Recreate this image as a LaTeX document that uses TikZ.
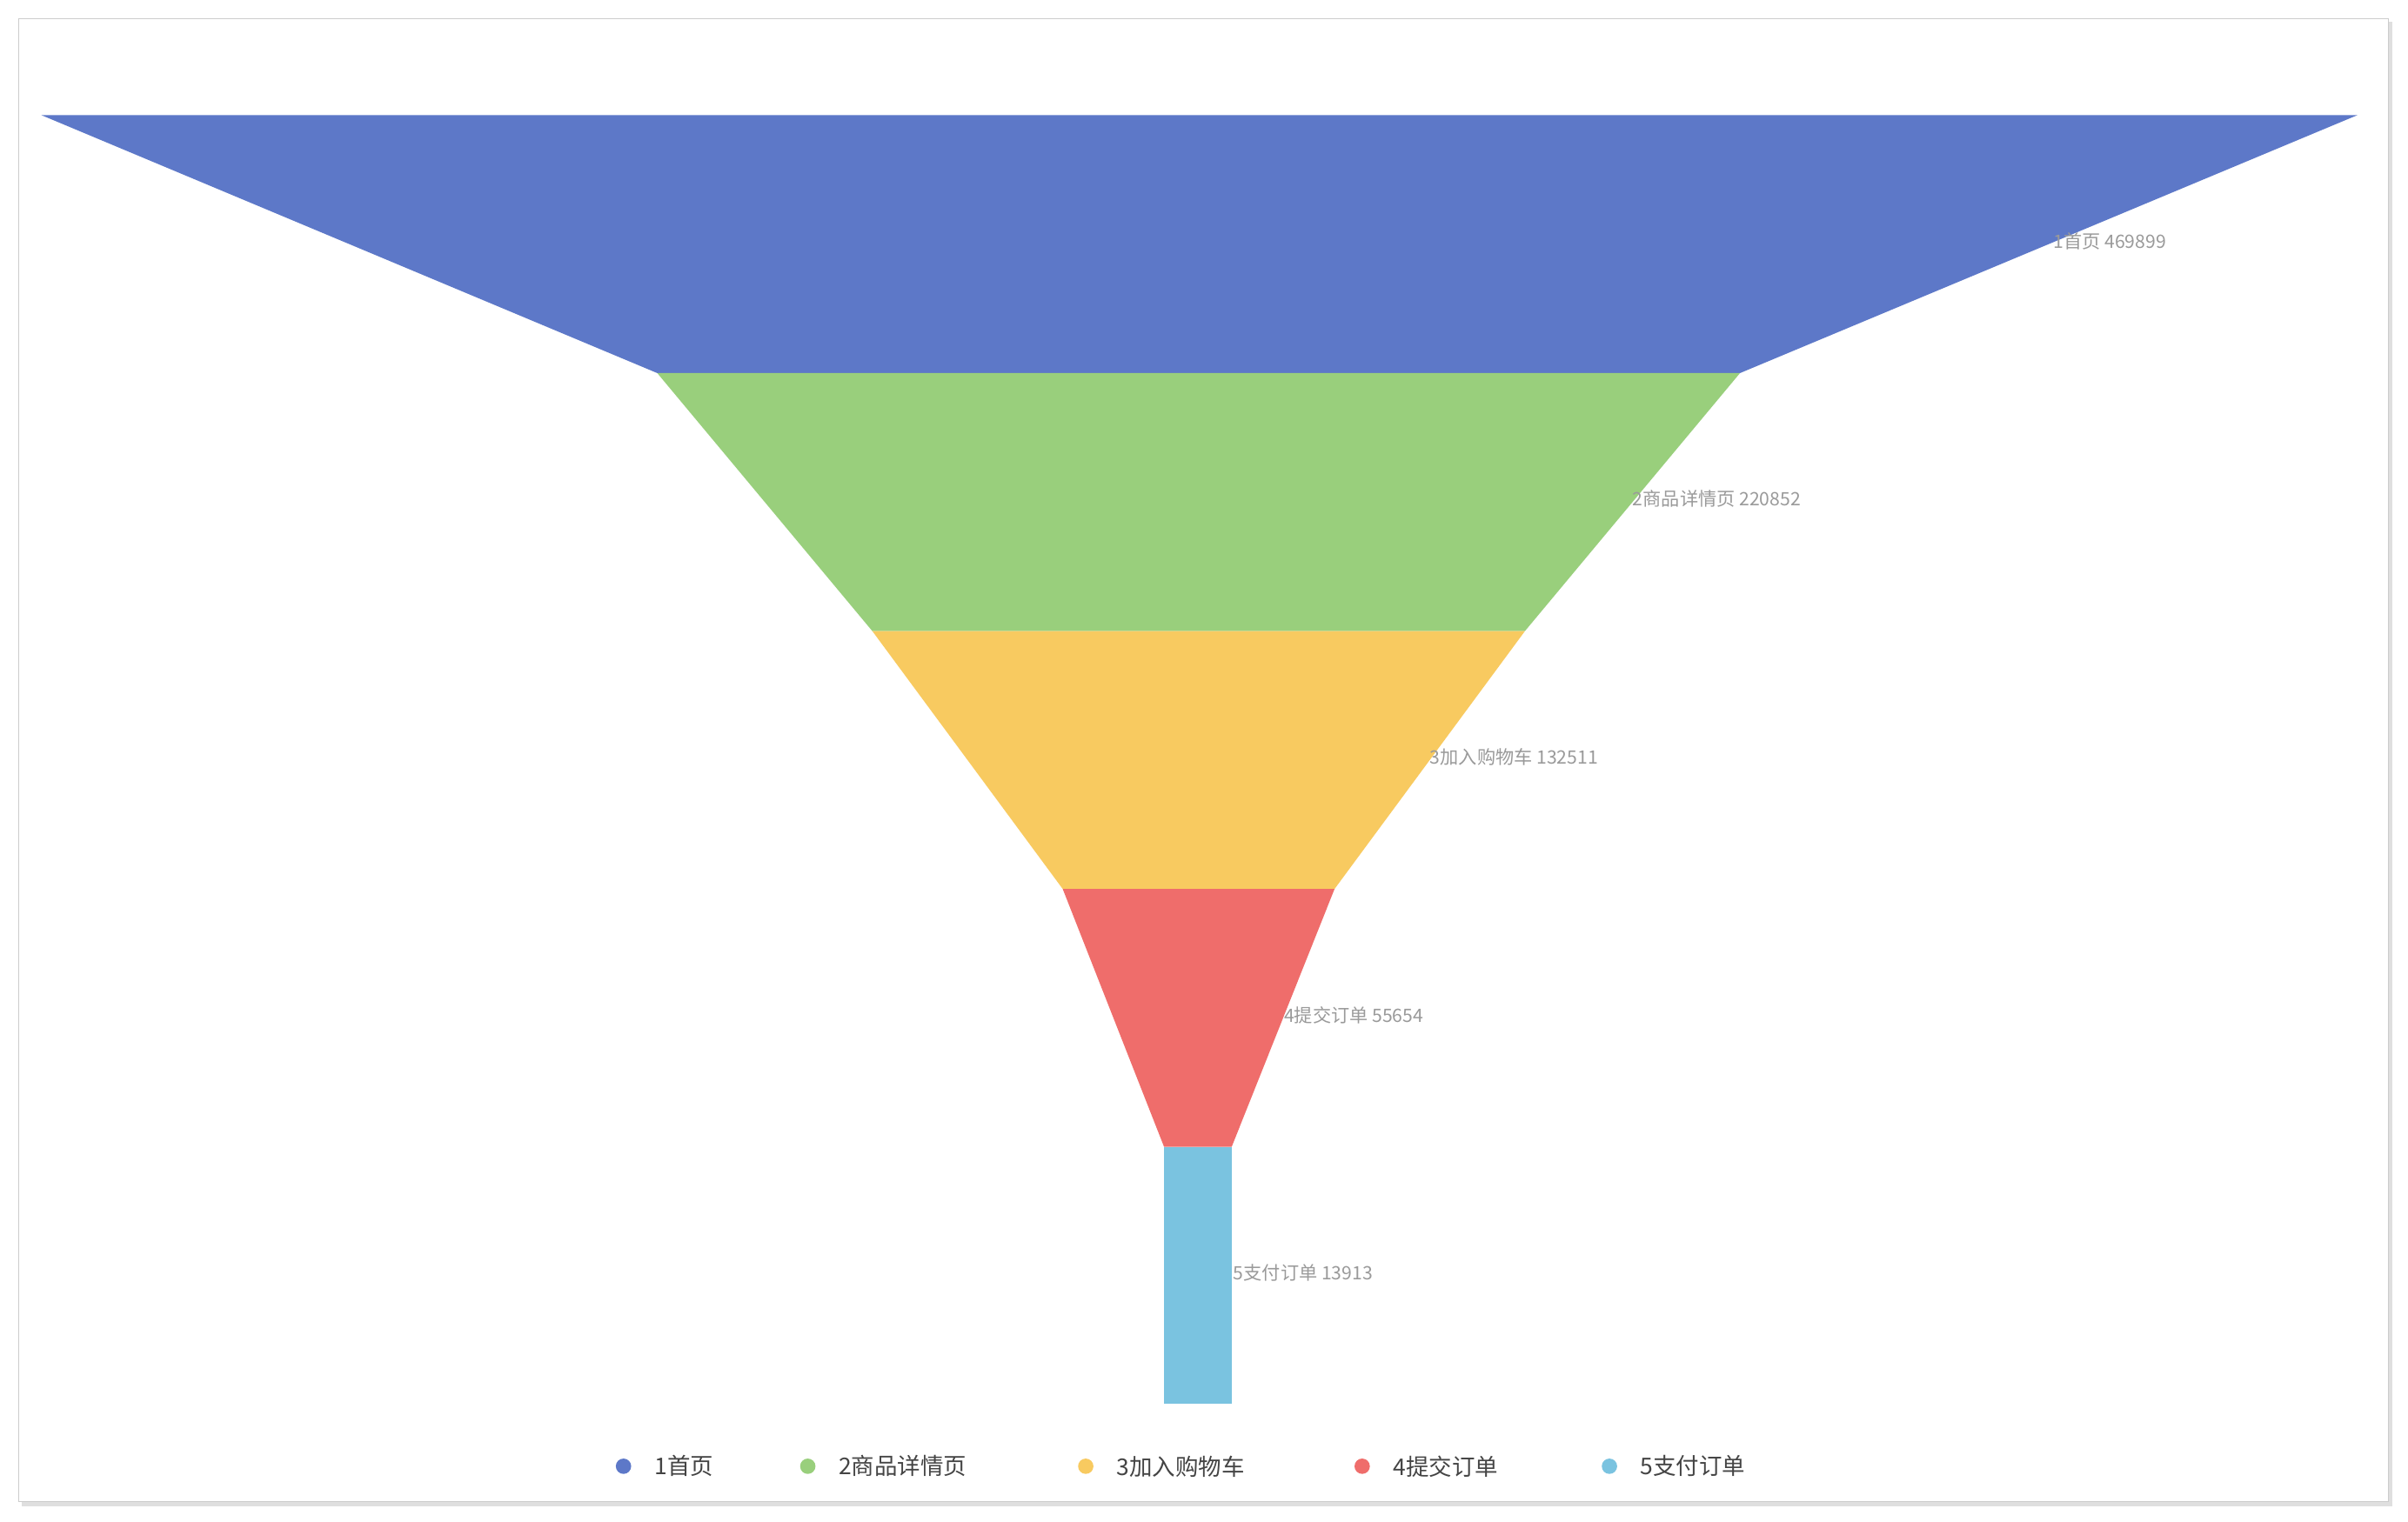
\documentclass[tikz,border=0pt]{standalone}
\usepackage{fontspec}
\setmainfont{Noto Sans CJK SC}
\definecolor{c1}{HTML}{5D78C8}
\definecolor{c2}{HTML}{99CF7C}
\definecolor{c3}{HTML}{F8CA60}
\definecolor{c4}{HTML}{EF6D6B}
\definecolor{c5}{HTML}{7AC3E0}
\definecolor{lab}{HTML}{9A9A9A}
\definecolor{leg}{HTML}{444444}
\begin{document}
\begin{tikzpicture}[x=1pt,y=-1pt,
  lbl/.style={anchor=west,inner sep=0pt,text=lab,font=\fontsize{12}{12}\selectfont},
  legtxt/.style={anchor=west,inner sep=0pt,text=leg,font=\fontsize{15}{15}\selectfont},
  dot/.style={circle,inner sep=0pt,minimum size=10pt}]
\useasboundingbox (0,0) rectangle (1568,991);
\fill[gray!25] (14,14) rectangle (1558,981);
\fill[white,draw=gray!40] (12,12) rectangle (1555,978);
\fill[c1] (27,75) -- (1535,75) -- (1133,243) -- (428,243) -- cycle;
\fill[c2] (428,243) -- (1133,243) -- (993,411) -- (568,411) -- cycle;
\fill[c3] (568,411) -- (993,411) -- (869,579) -- (692,579) -- cycle;
\fill[c4] (692,579) -- (869,579) -- (802,747) -- (758,747) -- cycle;
\fill[c5] (758,747) rectangle (802,914);
\node[lbl] (l1) at (1337,157) {1首页 469899};
\node[lbl] (l2) at (1063,325) {2商品详情页 220852};
\node[lbl] (l3) at (931,493) {3加入购物车 132511};
\node[lbl] (l4) at (836,661) {4提交订单 55654};
\node[lbl] (l5) at (803,829) {5支付订单 13913};
\node[dot,fill=c1] (d1) at (406,955) {};
\node[legtxt] (t1) at (426,955) {1首页};
\node[dot,fill=c2] (d2) at (526,955) {};
\node[legtxt] (t2) at (546,955) {2商品详情页};
\node[dot,fill=c3] (d3) at (707,955) {};
\node[legtxt] (t3) at (727,955) {3加入购物车};
\node[dot,fill=c4] (d4) at (887,955) {};
\node[legtxt] (t4) at (907,955) {4提交订单};
\node[dot,fill=c5] (d5) at (1048,955) {};
\node[legtxt] (t5) at (1068,955) {5支付订单};
\end{tikzpicture}
\end{document}
